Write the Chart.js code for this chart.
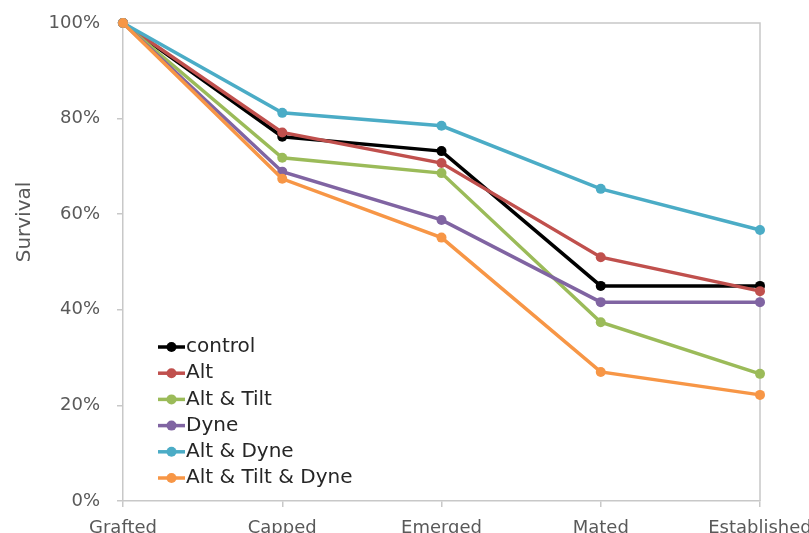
<!DOCTYPE html>
<html>
<head>
<meta charset="utf-8">
<style>
  html, body { margin: 0; padding: 0; background: #fff; overflow: hidden; }
  #wrap { width: 809px; height: 533px; position: relative; }
</style>
<script src="https://cdn.jsdelivr.net/npm/chart.js@4.4.1/dist/chart.umd.min.js"></script>
</head>
<body>
<div id="wrap"><canvas id="chart"></canvas></div>
<script>
// stages along the x axis
const stages = ['Grafted', 'Capped', 'Emerged', 'Mated', 'Established'];

// survival (%) per treatment
const control     = [100, 76.2, 73.2, 45.0, 45.0];
const alt         = [100, 77.1, 70.7, 51.0, 43.9];
const altTilt     = [100, 71.8, 68.6, 37.4, 26.6];
const dyne        = [100, 68.9, 58.8, 41.6, 41.6];
const altDyne     = [100, 81.2, 78.5, 65.3, 56.7];
const altTiltDyne = [100, 67.4, 55.1, 27.0, 22.2];

const seriesNames = ['control', 'Alt', 'Alt & Tilt', 'Dyne', 'Alt & Dyne', 'Alt & Tilt & Dyne'];
const seriesData = [control, alt, altTilt, dyne, altDyne, altTiltDyne];
const colors = ['#000000', '#C0504D', '#9BBB59', '#8064A2', '#4BACC6', '#F79646'];

const yTicks = [0, 20, 40, 60, 80, 100];

const datasets = seriesNames.map((name, i) => ({
  label: name,
  data: seriesData[i],
  borderColor: colors[i],
  backgroundColor: colors[i],
  borderWidth: 3.5,
  pointRadius: 5,
  pointHoverRadius: 5,
  pointBorderWidth: 0,
  tension: 0,
  clip: false,
  order: seriesNames.length - i   // later series drawn on top, like the original
}));

// plot frame, y title and the legend inside the plot
const extras = {
  id: 'extras',
  beforeDatasetsDraw(chart) {
    const { ctx, chartArea: a } = chart;
    ctx.save();
    ctx.strokeStyle = '#c8c8c8';
    ctx.lineWidth = 1.5;
    ctx.beginPath();
    ctx.moveTo(a.left, a.top);
    ctx.lineTo(a.right, a.top);
    ctx.lineTo(a.right, a.bottom);
    ctx.stroke();
    ctx.restore();
  },
  afterDatasetsDraw(chart) {
    const { ctx, chartArea: a } = chart;
    ctx.save();
    // y axis title
    ctx.translate(25, 222);
    ctx.rotate(-Math.PI / 2);
    ctx.fillStyle = '#595959';
    ctx.font = '20px "DejaVu Sans"';
    ctx.textAlign = 'center';
    ctx.textBaseline = 'middle';
    ctx.fillText('Survival', 0, 0);
    ctx.restore();

    // legend
    ctx.save();
    ctx.font = '20px "DejaVu Sans"';
    ctx.textBaseline = 'middle';
    const x0 = a.left + 35, y0 = a.top + 324, step = 26.2;
    chart.data.datasets.forEach((ds, i) => {
      const y = y0 + i * step;
      ctx.strokeStyle = ds.borderColor;
      ctx.lineWidth = 3.5;
      ctx.beginPath();
      ctx.moveTo(x0, y);
      ctx.lineTo(x0 + 27, y);
      ctx.stroke();
      ctx.fillStyle = ds.borderColor;
      ctx.beginPath();
      ctx.arc(x0 + 13.5, y, 5, 0, Math.PI * 2);
      ctx.fill();
      ctx.fillStyle = '#262626';
      ctx.fillText(ds.label, x0 + 28, y);
    });
    ctx.restore();
  }
};

new Chart(document.getElementById('chart'), {
  type: 'line',
  data: { labels: stages, datasets: datasets },
  plugins: [extras],
  options: {
    responsive: true,
    maintainAspectRatio: false,
    animation: false,
    layout: { padding: { top: 23, right: 49, left: 0, bottom: 0 } },
    plugins: {
      legend: { display: false },
      tooltip: { enabled: false }
    },
    scales: {
      x: {
        offset: false,
        grid: { drawOnChartArea: false, tickLength: 6, color: '#c8c8c8', lineWidth: 1.5 },
        border: { color: '#c8c8c8', width: 1.5 },
        ticks: {
          color: '#595959',
          font: { family: 'DejaVu Sans', size: 18 },
          padding: 11,
          maxRotation: 0,
          autoSkip: false
        },
        afterFit(s) { s.paddingLeft = 0; s.paddingRight = 0; s.height = 32; }
      },
      y: {
        min: 0,
        max: 100,
        afterBuildTicks(s) { s.ticks = yTicks.map(v => ({ value: v })); },
        grid: { drawOnChartArea: false, tickLength: 6, color: '#c8c8c8', lineWidth: 1.5 },
        border: { color: '#c8c8c8', width: 1.5 },
        ticks: {
          color: '#595959',
          font: { family: 'DejaVu Sans', size: 18 },
          padding: 17,
          callback: v => v + '%'
        },
        afterFit(s) { s.paddingTop = 0; s.paddingBottom = 0; s.width = 123; }
      }
    }
  }
});
</script>
</body>
</html>
